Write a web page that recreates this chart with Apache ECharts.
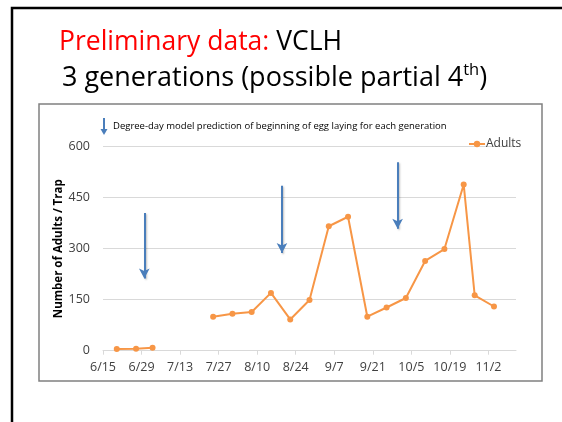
<!DOCTYPE html>
<html>
<head>
<meta charset="utf-8">
<script src="https://cdn.jsdelivr.net/npm/echarts@6/dist/echarts.min.js"></script>
<style>
  html, body { margin: 0; padding: 0; background: #fff; }
  #main { width: 562px; height: 422px; }
</style>
</head>
<body>
<div id="main"></div>
<script>
  // weekly trap counts (null = no sample)
  const dates = ['6/20', '6/27', '7/3', '7/10', '7/17', '7/25', '8/1', '8/8', '8/15', '8/22', '8/29',
    '9/5', '9/12', '9/19', '9/26', '10/3', '10/10', '10/17', '10/24', '10/28', '11/4'];
  const adults = [5, 6, 9, null, null, 100, 109, 114, 170, 92, 149,
    366, 394, 100, 127, 155, 264, 299, 489, 163, 130];

  // degree-day model predictions (date, arrow top, arrow tip)
  const arrowDates = ['6/30', '8/19', '9/30'];
  const arrowTop = [405, 485, 554];
  const arrowTip = [212, 287, 359];

  const yTicks = [0, 150, 300, 450, 600];
  const startDate = '6/15';
  const endDate = '11/12';

  const YEAR = 2014;
  const DAY = 86400000;
  function toDay(s) {
    const p = s.split('/');
    const b = startDate.split('/');
    return (Date.UTC(YEAR, p[0] - 1, +p[1]) - Date.UTC(YEAR, b[0] - 1, +b[1])) / DAY;
  }
  function toLabel(v) {
    const b = startDate.split('/');
    const d = new Date(Date.UTC(YEAR, b[0] - 1, +b[1]) + v * DAY);
    return (d.getUTCMonth() + 1) + '/' + d.getUTCDate();
  }

  const font = '"Open Sans", sans-serif';
  const blue = '#4a7ebb';
  const orange = '#f79646';

  const chart = echarts.init(document.getElementById('main'));
  chart.setOption({
    backgroundColor: '#fff',
    animation: false,
    grid: { left: 103, right: 46, top: 146.7, bottom: 71.3 },
    legend: {
      data: ['Adults'],
      left: 463, top: 133,
      itemWidth: 16, itemHeight: 8, itemGap: 2,
      textStyle: { fontFamily: font, fontSize: 12, color: '#404040', padding: [0, 0, 0, -4] }
    },
    xAxis: {
      type: 'value',
      min: 0, max: toDay(endDate), interval: 14,
      axisLine: { lineStyle: { color: '#d9d9d9', width: 1 } },
      axisTick: { length: 4, lineStyle: { color: '#d9d9d9' } },
      splitLine: { show: false },
      axisLabel: {
        showMaxLabel: false, margin: 10,
        fontFamily: font, fontSize: 12.5, color: '#404040',
        formatter: toLabel
      }
    },
    yAxis: {
      type: 'value',
      min: yTicks[0], max: yTicks[yTicks.length - 1], interval: 150,
      name: 'Number of Adults / Trap',
      nameLocation: 'middle', nameGap: 38, nameMoveOverlap: false,
      nameTextStyle: { fontFamily: font, fontSize: 11.5, fontWeight: 'bold', color: '#000' },
      axisLine: { show: false },
      axisTick: { show: false },
      splitLine: { lineStyle: { color: '#d9d9d9', width: 1 } },
      axisLabel: { margin: 13, fontFamily: font, fontSize: 12.5, color: '#404040' }
    },
    series: [
      {
        name: 'Adults',
        type: 'line',
        data: dates.map((d, i) => [toDay(d), adults[i]]),
        connectNulls: false,
        symbol: 'circle', symbolSize: 6,
        lineStyle: { color: orange, width: 2 },
        itemStyle: { color: orange },
        markLine: {
          silent: true,
          symbol: ['none', 'arrow'],
          symbolSize: [8, 10],
          label: { show: false },
          lineStyle: {
            color: blue, width: 2, type: 'solid',
            shadowColor: 'rgba(0,0,0,0.25)', shadowBlur: 2, shadowOffsetX: 1, shadowOffsetY: 1
          },
          itemStyle: { color: blue },
          data: arrowDates.map((d, i) => [
            { coord: [toDay(d), arrowTop[i]] },
            { coord: [toDay(d), arrowTip[i]] }
          ])
        }
      }
    ],
    graphic: [
      { type: 'rect', shape: { x: 12, y: 8, width: 600, height: 450 },
        style: { fill: null, stroke: '#000', lineWidth: 2.5 }, silent: true },
      { type: 'rect', shape: { x: 39, y: 104, width: 503, height: 277 },
        style: { fill: null, stroke: '#808080', lineWidth: 1.5 }, silent: true },
      { type: 'text', left: 59, top: 29,
        style: {
          text: '{r|Preliminary data:} VCLH',
          fontFamily: font, fontSize: 26.5, fill: '#000',
          rich: { r: { fill: '#ff0000', fontFamily: font, fontSize: 26.5 } }
        } },
      { type: 'text', left: 62, top: 62,
        style: {
          text: '3 generations (possible partial 4{s|th})',
          fontFamily: font, fontSize: 27, fill: '#000', lineHeight: 32,
          rich: { s: { fontSize: 16.5, verticalAlign: 'top', lineHeight: 32, fontFamily: font, fill: '#000' } }
        } },
      { type: 'line', shape: { x1: 104, y1: 118, x2: 104, y2: 133 },
        style: { stroke: blue, lineWidth: 2 } },
      { type: 'polygon', shape: { points: [[100.5, 129], [107.5, 129], [104, 135]] },
        style: { fill: blue } },
      { type: 'text', left: 113, top: 121,
        style: {
          text: 'Degree-day model prediction of beginning of egg laying for each generation',
          fontFamily: font, fontSize: 9.5, fill: '#000'
        } }
    ]
  });
</script>
</body>
</html>
